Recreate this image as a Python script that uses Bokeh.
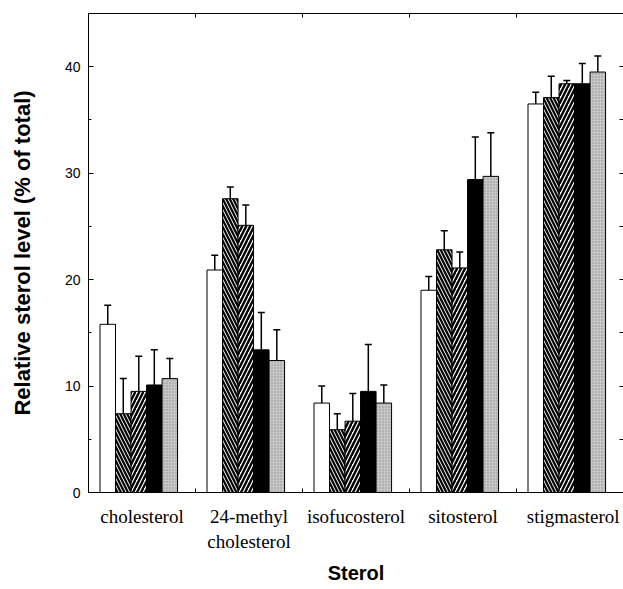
from bokeh.plotting import figure
from bokeh.models import (ColumnDataSource, Whisker, TeeHead, FixedTicker,
                          SingleIntervalTicker, LinearAxis, Range1d, Title)
from bokeh.embed import file_html
from bokeh.resources import INLINE

# ---- data -------------------------------------------------------------
sterols = ["cholesterol", "24-methyl cholesterol", "isofucosterol", "sitosterol", "stigmasterol"]
label_texts = ["cholesterol", "24-methyl\ncholesterol", "isofucosterol", "sitosterol", "stigmasterol"]
label_pos = [0.5, 1.5, 2.5, 3.5, 4.53]
boundaries = [1, 2, 3, 4]
y_ticks = [0, 5, 10, 15, 20, 25, 30, 35, 40, 45]

s1 = [15.8, 20.9, 8.4, 19.0, 36.5]
e1 = [1.8, 1.4, 1.6, 1.3, 1.1]
s2 = [7.4, 27.6, 5.9, 22.8, 37.1]
e2 = [3.3, 1.1, 1.5, 1.8, 2.0]
s3 = [9.5, 25.1, 6.7, 21.1, 38.4]
e3 = [3.3, 1.9, 2.6, 1.5, 0.3]
s4 = [10.1, 13.4, 9.5, 29.4, 38.4]
e4 = [3.3, 3.5, 4.4, 4.0, 1.9]
s5 = [10.7, 12.4, 8.4, 29.7, 39.5]
e5 = [1.9, 2.9, 1.7, 4.1, 1.5]

series = [s1, s2, s3, s4, s5]
errors = [e1, e2, e3, e4, e5]

# ---- styles -----------------------------------------------------------
bar_w = 0.145
group_shift = -0.03
fills = ["white", "black", "white", "black", "#c8c8c8"]
hatches = [
    None,
    dict(hatch_pattern="\\", hatch_color="white", hatch_weight=1.0, hatch_scale=7),
    dict(hatch_pattern="/", hatch_color="black", hatch_weight=2.4, hatch_scale=8),
    None,
    dict(hatch_pattern=".", hatch_color="#8c8c8c", hatch_weight=1, hatch_scale=3),
]

p = figure(width=623, height=589, x_range=Range1d(0, 5), y_range=Range1d(0, 45),
           output_backend="svg", toolbar_location=None,
           x_axis_type=None, y_axis_type=None,
           min_border_left=88, min_border_top=13, min_border_right=0, min_border_bottom=95)
p.outline_line_color = None
p.background_fill_color = "white"
p.border_fill_color = "white"

for k, (vals, errs) in enumerate(zip(series, errors)):
    xs = [i + 0.5 + group_shift + (k - 2) * bar_w for i in range(len(sterols))]
    src = ColumnDataSource(dict(x=xs, top=vals, upper=[v + e for v, e in zip(vals, errs)]))
    p.add_layout(Whisker(source=src, base="x", lower="top", upper="upper", dimension="height",
                         line_color="black", line_width=1.5, lower_head=None,
                         upper_head=TeeHead(size=7, line_color="black", line_width=1.5)))
    p.vbar(x="x", top="top", width=bar_w, bottom=0, source=src,
           fill_color=fills[k], line_color=None)
    if hatches[k] is not None:
        p.vbar(x="x", top="top", width=bar_w, bottom=0, source=src,
               fill_color=None, line_color=None, **hatches[k])
    p.vbar(x="x", top="top", width=bar_w, bottom=0, source=src,
           fill_color=None, line_color="black", line_width=1)

# ---- axes -------------------------------------------------------------
font = "Liberation Sans"

yaxis = LinearAxis(ticker=SingleIntervalTicker(interval=10, num_minor_ticks=2),
                   axis_label="Relative sterol level (% of total)")
yaxis.major_tick_in = 5
yaxis.major_tick_out = 0
yaxis.minor_tick_in = 3
yaxis.minor_tick_out = 0
yaxis.major_label_standoff = 8
yaxis.major_label_text_font = font
yaxis.major_label_text_font_size = "14px"
yaxis.major_label_text_color = "black"
yaxis.axis_label_text_font = font
yaxis.axis_label_text_font_style = "bold"
yaxis.axis_label_text_font_size = "22px"
yaxis.axis_label_text_color = "black"
yaxis.axis_label_standoff = 27
yaxis.axis_line_color = "black"
p.add_layout(yaxis, "left")

# right side: tick marks only (no labels)
ryaxis = LinearAxis(ticker=FixedTicker(ticks=[], minor_ticks=y_ticks))
ryaxis.minor_tick_in = 4
ryaxis.minor_tick_out = 0
ryaxis.major_tick_in = 0
ryaxis.major_tick_out = 0
ryaxis.major_label_standoff = 0
ryaxis.axis_line_color = None
p.add_layout(ryaxis, "right")

xaxis = LinearAxis(ticker=FixedTicker(ticks=label_pos, minor_ticks=boundaries))
xaxis.major_label_overrides = {pos: txt for pos, txt in zip(label_pos, label_texts)}
xaxis.major_tick_line_color = None
xaxis.major_tick_in = 0
xaxis.major_tick_out = 0
xaxis.minor_tick_in = 4
xaxis.minor_tick_out = 0
xaxis.major_label_standoff = 13
xaxis.major_label_text_font = "Liberation Serif"
xaxis.major_label_text_font_size = "19px"
xaxis.major_label_text_color = "black"
xaxis.axis_line_color = "black"
p.add_layout(xaxis, "below")

# top side: frame line with tick marks only
taxis = LinearAxis(ticker=FixedTicker(ticks=[], minor_ticks=boundaries))
taxis.minor_tick_in = 4
taxis.minor_tick_out = 0
taxis.major_tick_in = 0
taxis.major_tick_out = 0
taxis.major_label_standoff = 0
taxis.axis_line_color = "black"
p.add_layout(taxis, "above")

p.add_layout(Title(text="Sterol", align="center", text_font=font,
                   text_font_style="bold", text_font_size="20px", text_color="black",
                   standoff=11), "below")

open("out.html", "w").write(file_html(p, INLINE))
